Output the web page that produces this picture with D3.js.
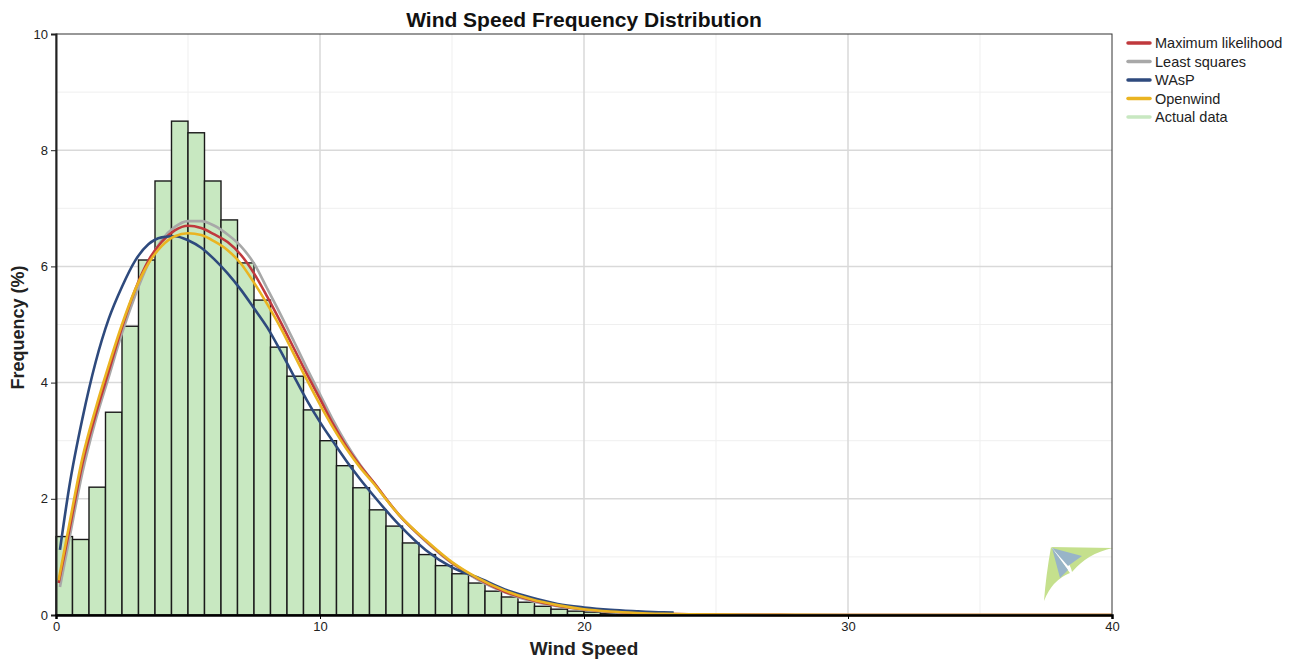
<!DOCTYPE html>
<html>
<head>
<meta charset="utf-8">
<script src="https://cdn.jsdelivr.net/npm/d3@7"></script>
<style>
  html, body { margin: 0; padding: 0; background: #fff; }
  svg { display: block; font-family: "Liberation Sans", Arial, sans-serif; }
</style>
</head>
<body>
<svg id="chart" width="1296" height="659"></svg>
<script>
// Histogram bins (m/s), each 0.625 wide, frequency in %
const binWidth = 0.625;
const binFreq = [1.35, 1.30, 2.20, 3.49, 4.97, 6.11, 7.47, 8.50, 8.30, 7.47,
                 6.80, 6.06, 5.42, 4.61, 4.11, 3.53, 3.00, 2.57, 2.19, 1.81,
                 1.53, 1.24, 1.04, 0.85, 0.71, 0.55, 0.41, 0.31, 0.22, 0.15,
                 0.10, 0.066, 0.05, 0.03, 0.02, 0.01];

// Fitted distribution curves: wind speed (m/s) and frequency (%)
const mlSpeed = [0.1, 0.5, 1, 1.5, 2, 2.5, 3, 3.5, 4, 4.5, 5, 5.5, 6, 6.5, 7, 7.5, 8, 8.5, 9, 9.5,
                 10, 10.5, 11, 11.5, 12, 13, 14, 15, 16, 17, 18, 19, 20, 21, 22, 23, 24, 26, 28, 30, 40];
const mlFreq = [0.55, 1.45, 2.6, 3.45, 4.2, 4.95, 5.6, 6.1, 6.42, 6.62, 6.7, 6.66, 6.55, 6.42, 6.2, 5.88, 5.48, 5.05, 4.6, 4.15,
                3.72, 3.28, 2.9, 2.58, 2.3, 1.72, 1.28, 0.9, 0.62, 0.4, 0.26, 0.16, 0.1, 0.06, 0.035, 0.02, 0.01, 0.004, 0.001, 0, 0];

const lsSpeed = [0.15, 0.5, 1, 1.5, 2, 2.5, 3, 3.5, 4, 4.5, 5, 5.5, 6, 6.5, 7, 7.5, 8, 8.5, 9, 9.5,
                 10, 10.5, 11, 11.5, 12, 13, 14, 15, 16, 17, 18, 19, 20, 21, 22, 23, 24, 26, 28, 40];
const lsFreq = [0.48, 1.3, 2.45, 3.35, 4.1, 4.85, 5.5, 6.05, 6.45, 6.68, 6.78, 6.78, 6.7, 6.55, 6.35, 6.05, 5.62, 5.18, 4.72, 4.25,
                3.8, 3.35, 2.95, 2.6, 2.3, 1.72, 1.27, 0.89, 0.6, 0.39, 0.24, 0.15, 0.09, 0.05, 0.03, 0.015, 0.008, 0.002, 0, 0];

const waspSpeed = [0.15, 0.5, 1, 1.5, 2, 2.5, 3, 3.5, 4, 4.5, 5, 5.5, 6, 6.5, 7, 7.5, 8, 8.5, 9, 9.5,
                   10, 10.5, 11, 11.5, 12, 13, 14, 15, 16, 17, 18, 19, 20, 21, 22, 23, 23.4];
const waspFreq = [1.12, 2.2, 3.38, 4.35, 5.1, 5.65, 6.1, 6.38, 6.5, 6.52, 6.45, 6.32, 6.12, 5.88, 5.6, 5.28, 4.95, 4.55, 4.12, 3.7,
                  3.32, 2.98, 2.65, 2.35, 2.07, 1.55, 1.12, 0.82, 0.64, 0.44, 0.3, 0.19, 0.13, 0.09, 0.065, 0.045, 0.04];

const owSpeed = [0.1, 0.5, 1, 1.5, 2, 2.5, 3, 3.5, 4, 4.5, 5, 5.5, 6, 6.5, 7, 7.5, 8, 8.5, 9, 9.5,
                 10, 10.5, 11, 11.5, 12, 13, 14, 15, 16, 17, 18, 19, 20, 21, 22, 23, 24, 26, 28, 30, 40];
const owFreq = [0.6, 1.55, 2.7, 3.55, 4.3, 5.0, 5.6, 6.05, 6.35, 6.52, 6.57, 6.54, 6.43, 6.28, 6.05, 5.72, 5.35, 4.95, 4.5, 4.05,
                3.62, 3.22, 2.86, 2.55, 2.28, 1.72, 1.29, 0.91, 0.63, 0.42, 0.27, 0.17, 0.1, 0.06, 0.035, 0.02, 0.012, 0.005, 0.002, 0.001, 0];

const xTicks = [0, 10, 20, 30, 40];
const yTicks = [0, 2, 4, 6, 8, 10];
const legendLabels = ["Maximum likelihood", "Least squares", "WAsP", "Openwind", "Actual data"];

const svg = d3.select("#chart");
const plot = { left: 56, right: 1112, top: 34, bottom: 615 };

const x = d3.scaleLinear().domain([0, 40]).range([plot.left, plot.right]);
const y = d3.scaleLinear().domain([0, 10]).range([plot.bottom, plot.top]);

// minor grid
const g = svg.append("g");
g.selectAll(".vminor").data([5, 15, 25, 35]).enter().append("line")
  .attr("x1", d => x(d)).attr("x2", d => x(d)).attr("y1", plot.top).attr("y2", plot.bottom)
  .attr("stroke", "#efefef").attr("stroke-width", 1);
g.selectAll(".hminor").data([1, 3, 5, 7, 9]).enter().append("line")
  .attr("x1", plot.left).attr("x2", plot.right).attr("y1", d => y(d)).attr("y2", d => y(d))
  .attr("stroke", "#efefef").attr("stroke-width", 1);
// major grid
g.selectAll(".vmajor").data([10, 20, 30]).enter().append("line")
  .attr("x1", d => x(d)).attr("x2", d => x(d)).attr("y1", plot.top).attr("y2", plot.bottom)
  .attr("stroke", "#d9d9d9").attr("stroke-width", 1.5);
g.selectAll(".hmajor").data([2, 4, 6, 8]).enter().append("line")
  .attr("x1", plot.left).attr("x2", plot.right).attr("y1", d => y(d)).attr("y2", d => y(d))
  .attr("stroke", "#d9d9d9").attr("stroke-width", 1.5);

// histogram bars
svg.append("g").selectAll("rect").data(binFreq).enter().append("rect")
  .attr("x", (d, i) => x(i * binWidth))
  .attr("width", (d, i) => x((i + 1) * binWidth) - x(i * binWidth))
  .attr("y", d => y(d))
  .attr("height", d => y(0) - y(d))
  .attr("fill", "#c8e8c1")
  .attr("stroke", "#1a1a1a")
  .attr("stroke-width", 1.4);

// fitted curves
const line = d3.line().x(d => x(d[0])).y(d => y(d[1])).curve(d3.curveMonotoneX);
const series = [
  { sp: lsSpeed, fr: lsFreq, color: "#a8a8a8" },
  { sp: mlSpeed, fr: mlFreq, color: "#c0393d" },
  { sp: waspSpeed, fr: waspFreq, color: "#2e4a7d" },
  { sp: owSpeed, fr: owFreq, color: "#eab421" }
];
series.forEach(s => {
  svg.append("path")
    .datum(s.sp.map((v, i) => [v, s.fr[i]]))
    .attr("d", line)
    .attr("fill", "none")
    .attr("stroke", s.color)
    .attr("stroke-width", 2.6)
    .attr("stroke-linejoin", "round");
});

// logo mark in the lower right corner
const logo = svg.append("g");
logo.append("path")
  .attr("d", "M1051,547 L1113,548 Q1088,553 1072,572 Q1070,560 1051,547 Z")
  .attr("fill", "#c5e08d");
logo.append("path")
  .attr("d", "M1051,547 Q1064,565 1070,573 Q1052,580 1044,601 Q1046,575 1051,547 Z")
  .attr("fill", "#c5e08d");
logo.append("path")
  .attr("d", "M1052,548 L1082,556 L1068,566 Z")
  .attr("fill", "#98b4c8");
logo.append("path")
  .attr("d", "M1052,548 L1068,570 L1060,578 Z")
  .attr("fill", "#98b4c8");

// frame
svg.append("rect")
  .attr("x", plot.left).attr("y", plot.top)
  .attr("width", plot.right - plot.left).attr("height", plot.bottom - plot.top)
  .attr("fill", "none").attr("stroke", "#333").attr("stroke-width", 1);

// axes
const yAxis = d3.axisLeft(y).tickValues(yTicks).tickSize(5).tickPadding(3).tickFormat(d3.format("d"));
const yg = svg.append("g").attr("transform", `translate(${plot.left},0)`).call(yAxis);
yg.select(".domain").attr("stroke", "#222").attr("stroke-width", 2);
yg.selectAll(".tick line").attr("stroke", "#222");
yg.selectAll("text").attr("font-size", 13).attr("fill", "#222")
  .attr("font-family", "'Liberation Sans', Arial, sans-serif");

const xAxis = d3.axisBottom(x).tickValues(xTicks).tickSize(4).tickPadding(3).tickFormat(d3.format("d"));
const xg = svg.append("g").attr("transform", `translate(0,${plot.bottom})`).call(xAxis);
xg.select(".domain").attr("stroke", "#000").attr("stroke-width", 2.5);
xg.selectAll(".tick line").attr("stroke", "#000");
xg.selectAll("text").attr("font-size", 13).attr("fill", "#222")
  .attr("font-family", "'Liberation Sans', Arial, sans-serif");

// titles
svg.append("text").attr("x", (plot.left + plot.right) / 2).attr("y", 27)
  .attr("text-anchor", "middle").attr("font-size", 21).attr("font-weight", "bold")
  .attr("fill", "#111").text("Wind Speed Frequency Distribution");
svg.append("text").attr("x", (plot.left + plot.right) / 2).attr("y", 655)
  .attr("text-anchor", "middle").attr("font-size", 19).attr("font-weight", "bold")
  .attr("fill", "#222").text("Wind Speed");
svg.append("text").attr("transform", `translate(24,${(plot.top + plot.bottom) / 2 + 3}) rotate(-90)`)
  .attr("text-anchor", "middle").attr("font-size", 18).attr("font-weight", "bold")
  .attr("fill", "#222").text("Frequency (%)");

// legend
const legendColors = ["#c0393d", "#a8a8a8", "#2e4a7d", "#eab421", "#c8e8c1"];
const lg = svg.append("g").attr("transform", "translate(1128,43)");
legendLabels.forEach((lab, i) => {
  const row = lg.append("g").attr("transform", `translate(0,${i * 18.5})`);
  row.append("line").attr("x1", 0).attr("x2", 22).attr("y1", 0).attr("y2", 0)
    .attr("stroke", legendColors[i]).attr("stroke-width", 3.5).attr("stroke-linecap", "round");
  row.append("text").attr("x", 27).attr("y", 5).attr("font-size", 14.5).attr("fill", "#222").text(lab);
});
</script>
</body>
</html>
